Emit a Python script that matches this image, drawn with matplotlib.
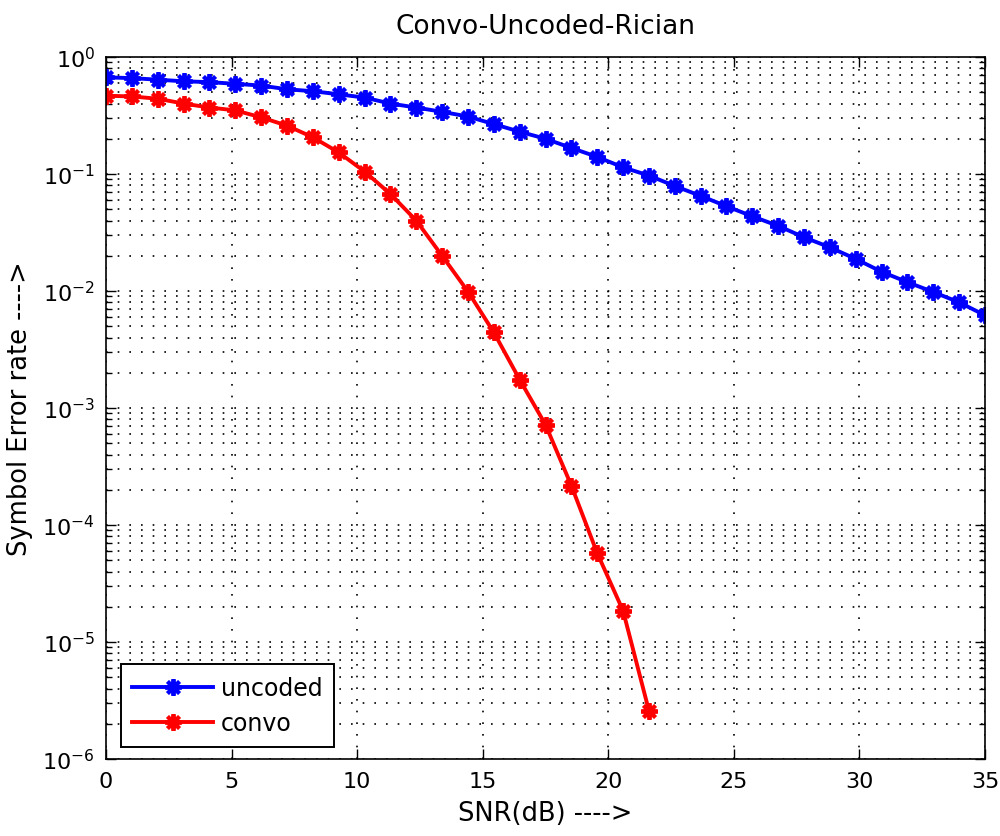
import numpy as np
import matplotlib
matplotlib.use('Agg')
import matplotlib.pyplot as plt
from matplotlib.ticker import LogLocator, FixedLocator, NullFormatter

plt.rcParams['font.family'] = ['DejaVu Sans']
plt.rcParams['mathtext.fontset'] = 'dejavusans'

# SNR grid (35 points from 0 to 35 dB)
snr = np.linspace(0, 35, 35)

# uncoded symbol error rate
ser_uncoded = [0.67, 0.66, 0.64, 0.62, 0.61, 0.59, 0.57, 0.53, 0.51, 0.48,
               0.45, 0.40, 0.37, 0.34, 0.31, 0.267, 0.23, 0.20, 0.167, 0.14,
               0.114, 0.097, 0.079, 0.065, 0.053, 0.0435, 0.036, 0.0288, 0.0236, 0.0188,
               0.0146, 0.0119, 0.0098, 0.0080, 0.0062]

# convolutional coded symbol error rate (only the first 22 points are > 0)
ser_convo = [0.467, 0.46, 0.44, 0.40, 0.37, 0.35, 0.305, 0.259, 0.206, 0.153,
             0.105, 0.0675, 0.040, 0.020, 0.0099, 0.00443, 0.00175, 7.2e-4, 2.17e-4, 5.75e-5,
             1.85e-5, 2.59e-6]

fig = plt.figure(figsize=(10, 8.37), dpi=100)
ax = fig.add_axes([0.106, 0.092, 0.879, 0.8387])

star = (8, 2, 0)   # asterisk like matlab '*'
ax.semilogy(snr, ser_uncoded, '-', color='blue', lw=2.8, marker=star, ms=12, mew=2.8, label='uncoded')
ax.semilogy(snr[:len(ser_convo)], ser_convo, '-', color='red', lw=2.8, marker=star, ms=12, mew=2.8, label='convo')

ax.set_xlim(0, 35)
ax.set_ylim(1e-6, 1)
ax.xaxis.set_major_locator(FixedLocator([0, 5, 10, 15, 20, 25, 30, 35]))
ax.yaxis.set_major_locator(LogLocator(base=10, numticks=10))
ax.yaxis.set_minor_locator(LogLocator(base=10, subs=np.arange(2, 10), numticks=20))
ax.yaxis.set_minor_formatter(NullFormatter())

ax.tick_params(which='both', direction='in', top=True, right=True, labelsize=16)
ax.tick_params(which='major', length=7, width=1)
ax.tick_params(which='minor', length=4, width=1)
ax.tick_params(axis='x', pad=9)
ax.tick_params(axis='y', pad=8)

dots = (0, (1, 6))
ax.grid(True, which='major', axis='both', color='black', linestyle=dots, lw=1.2)
ax.grid(True, which='minor', axis='y', color='black', linestyle=dots, lw=1.2)

for s in ax.spines.values():
    s.set_linewidth(1.2)

ax.set_title('Convo-Uncoded-Rician', fontsize=19, pad=17)
ax.set_xlabel('SNR(dB) ---->', fontsize=18.5, labelpad=6)
ax.set_ylabel('Symbol Error rate ---->', fontsize=18.5)
ax.yaxis.set_label_coords(-0.083, 0.5)

leg = ax.legend(loc='lower left', bbox_to_anchor=(0.0167, 0.0175), fontsize=17,
                fancybox=False, framealpha=1, edgecolor='black', handlelength=3.4,
                handletextpad=0.35, borderpad=0.5, labelspacing=0.45, borderaxespad=0)
leg.get_frame().set_linewidth(1.4)

fig.savefig('out.png', dpi=100)
